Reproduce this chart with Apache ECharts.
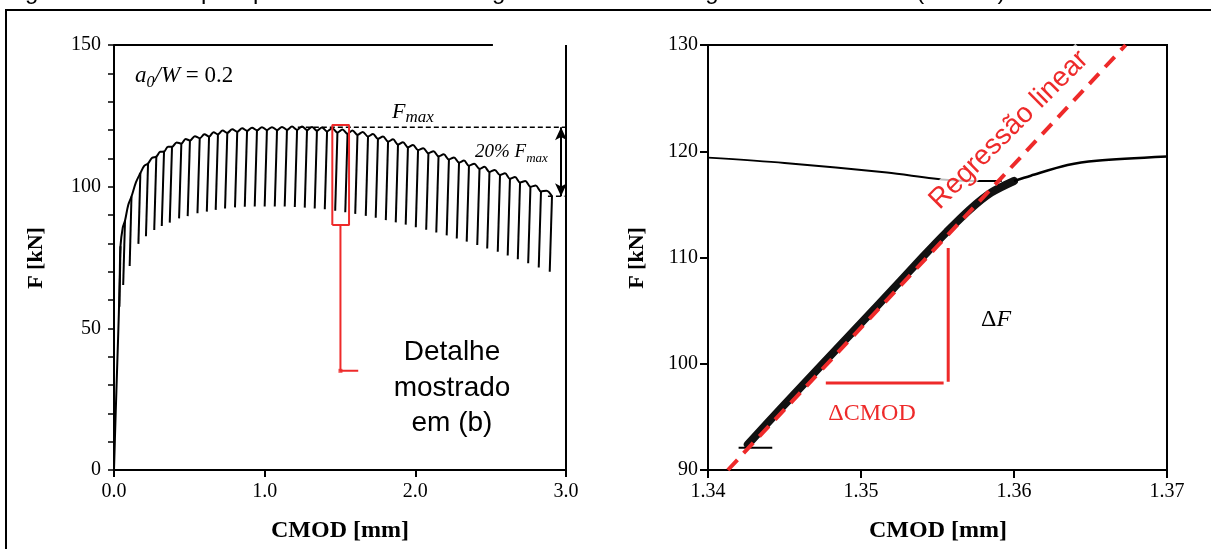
<!DOCTYPE html>
<html><head><meta charset="utf-8">
<script src="https://cdn.jsdelivr.net/npm/echarts@6/dist/echarts.min.js"></script>
<style>html,body{margin:0;padding:0;background:#fff;overflow:hidden}#c{width:1211px;height:549px}</style>
</head><body><div id="c"></div>
<script>
// ---------- (a) full loading–unloading curve ----------
const initialCMOD = [0, 0.010, 0.022, 0.032, 0.038];
const initialF    = [0, 18, 38, 55, 68];
const cycleCMOD = [0.043,0.073,0.116,0.175,0.226,0.281,0.332,0.385,0.447,0.504,0.569,0.631,0.690,0.752,0.818,0.883,0.949,1.015,1.082,1.148,1.215,1.281,1.347,1.414,1.483,1.550,1.616,1.686,1.752,1.819,1.885,1.951,2.018,2.087,2.154,2.223,2.290,2.356,2.426,2.492,2.562,2.628,2.695,2.764,2.834,2.907];
const cycleTopF = [79.0,88.0,96.5,104.8,108.2,110.6,112.4,114.1,115.2,116.3,117.1,117.7,118.5,119.0,119.4,119.7,119.9,120.0,120.0,120.1,120.1,120.0,119.8,119.5,119.1,118.7,118.3,117.7,116.9,115.9,114.9,113.9,112.9,111.8,110.7,109.6,108.5,107.4,106.3,105.2,104.1,102.8,101.5,100.0,98.3,96.6];
const archF = [85.5,93.5,101.5,107.3,110.2,112.3,114.1,115.6,116.8,117.8,118.5,119.2,119.8,120.3,120.6,120.8,121.0,121.0,121.1,121.2,121.2,121.1,120.9,120.6,120.2,119.8,119.3,118.6,117.7,116.7,115.7,114.7,113.6,112.5,111.4,110.3,109.2,108.1,107.0,105.9,104.7,103.4,102.0,100.4,98.6];
const reloadCMOD = [0.036,0.061,0.104,0.162,0.212,0.267,0.317,0.370,0.432,0.489,0.554,0.616,0.675,0.737,0.803,0.868,0.934,1.000,1.067,1.133,1.200,1.266,1.332,1.399,1.468,1.535,1.601,1.671,1.737,1.804,1.870,1.936,2.003,2.072,2.139,2.208,2.275,2.341,2.411,2.477,2.547,2.613,2.680,2.749,2.819,2.892];
const cycleMinF = [57.6,65.3,72.0,79.8,82.5,84.7,86.1,87.3,88.8,89.6,90.6,91.2,91.8,92.3,92.7,92.9,93.0,93.0,93.0,93.0,92.8,92.6,92.3,92.0,91.5,91.0,90.4,89.7,89.0,88.2,87.4,86.6,85.7,84.8,83.8,82.8,81.7,80.6,79.4,78.2,77.0,75.7,74.4,73.0,71.5,70.0];
const fMax = 121.0, f80 = 96.6;

// ---------- (b) detail ----------
const prevCMOD = [1.3400,1.3450,1.3517,1.3557,1.3592];
const prevF    = [119.4,118.9,118.0,117.3,117.2];
const loadCMOD = [1.3426,1.3449,1.3475,1.3511,1.3540,1.3556,1.3571,1.3585,1.3600];
const loadF    = [92.4,96.0,100.0,105.5,110.0,112.4,114.5,116.1,117.2];
const contCMOD = [1.3600,1.3611,1.3635,1.3654,1.3700];
const contF    = [117.2,117.7,118.7,119.1,119.5];
const baseCMOD = [1.3420,1.3442];
const baseF    = [92.1,92.1];
const regCMOD  = [1.3413,1.3673];
const regF     = [90,130];
const dCmodX = [1.3477,1.3554], dCmodF = 98.2;
const dFX = 1.3557, dFF = [98.3,110.9];

const SERIF = '"Liberation Serif","Times New Roman",serif';
const SANS = '"Liberation Sans",Arial,sans-serif';
const RED = '#ee2a2a';
const BLK = '#000';

const zip = (xs, ys) => xs.map((x, i) => [x, ys[i]]);

const envelope = zip(initialCMOD, initialF);
for (let i = 0; i < cycleCMOD.length; i++) {
  envelope.push([cycleCMOD[i], cycleTopF[i]]);
  if (i < archF.length) envelope.push([(cycleCMOD[i] + cycleCMOD[i + 1]) / 2, archF[i]]);
}
const drops = cycleCMOD.map((x, i) => ({coords: [[x, cycleTopF[i]], [reloadCMOD[i], cycleMinF[i]]]}));

const chart = echarts.init(document.getElementById('c'));

const axisCommon = {
  axisLine: {show: true, onZero: false, lineStyle: {color: BLK, width: 2}},
  axisTick: {show: true, inside: false, length: 7, lineStyle: {color: BLK, width: 2}},
  splitLine: {show: false},
  axisLabel: {color: BLK, fontFamily: SERIF, fontSize: 20}
};

function lineS(data, extra) {
  return Object.assign({type: 'line', data, symbol: 'none', animation: false, silent: true,
    lineStyle: {color: BLK, width: 2}, z: 3}, extra);
}

chart.setOption({
  animation: false,
  grid: [
    {left: 114, top: 45, width: 452, height: 425},
    {left: 708, top: 45, width: 459, height: 425, show: true, borderColor: BLK, borderWidth: 2, backgroundColor: 'transparent'}
  ],
  xAxis: [
    Object.assign({}, axisCommon, {gridIndex: 0, type: 'value', min: 0, max: 3, interval: 1,
      axisLabel: Object.assign({}, axisCommon.axisLabel, {margin: 12, formatter: v => v.toFixed(1)})}),
    Object.assign({}, axisCommon, {gridIndex: 1, type: 'value', min: 1.34, max: 1.37, interval: 0.01,
      axisTick: {show: true, length: 8, lineStyle: {color: BLK, width: 2}},
      axisLabel: Object.assign({}, axisCommon.axisLabel, {margin: 12, formatter: v => v.toFixed(2)})})
  ],
  yAxis: [
    Object.assign({}, axisCommon, {gridIndex: 0, type: 'value', min: 0, max: 150, interval: 10,
      axisTick: {show: true, length: 6, lineStyle: {color: BLK, width: 1.5}},
      axisLabel: Object.assign({}, axisCommon.axisLabel, {margin: 13, formatter: v => (v % 50 === 0 ? String(v) : '')})}),
    Object.assign({}, axisCommon, {gridIndex: 1, type: 'value', min: 90, max: 130, interval: 10,
      axisTick: {show: true, length: 8, lineStyle: {color: BLK, width: 2}},
      axisLabel: Object.assign({}, axisCommon.axisLabel, {margin: 10})})
  ],
  series: [
    lineS([[3, 0], [3, 150]], {xAxisIndex: 0, yAxisIndex: 0, clip: false, lineStyle: {color: BLK, width: 2}}),
    lineS([[0, 150], [2.515, 150]], {xAxisIndex: 0, yAxisIndex: 0, clip: false, lineStyle: {color: BLK, width: 2}}),
    {type: 'lines', coordinateSystem: 'cartesian2d', xAxisIndex: 0, yAxisIndex: 0, data: drops, silent: true,
      animation: false, lineStyle: {color: BLK, width: 2, opacity: 1}, z: 3},
    lineS(envelope, {xAxisIndex: 0, yAxisIndex: 0, smooth: 0.35, lineStyle: {color: BLK, width: 2}}),
    lineS([[1.22, fMax], [3.0, fMax]], {xAxisIndex: 0, yAxisIndex: 0, clip: false,
      lineStyle: {color: BLK, width: 1.5, type: [5, 3]},
      markLine: {silent: true, symbol: ['arrow', 'arrow'], symbolSize: [9, 13], label: {show: false},
        lineStyle: {color: BLK, width: 2, type: 'solid'},
        data: [[{coord: [2.967, fMax]}, {coord: [2.967, f80]}]]}}),
    lineS([[2.88, f80], [2.99, f80]], {xAxisIndex: 0, yAxisIndex: 0, lineStyle: {color: BLK, width: 1.5, type: [5, 3]}}),
    lineS([[1.449, 86.5], [1.449, 121.8], [1.560, 121.8], [1.560, 86.5], [1.449, 86.5]],
      {xAxisIndex: 0, yAxisIndex: 0, lineStyle: {color: RED, width: 2}, z: 4}),
    lineS([[1.503, 86.5], [1.503, 35.0], [1.621, 35.0]], {xAxisIndex: 0, yAxisIndex: 0, lineStyle: {color: RED, width: 2}, z: 4}),
    {type: 'scatter', xAxisIndex: 0, yAxisIndex: 0, data: [[1.503, 35.0]], symbol: 'rect', symbolSize: 4,
      itemStyle: {color: RED}, silent: true, animation: false, z: 5},

    lineS(zip(prevCMOD, prevF), {xAxisIndex: 1, yAxisIndex: 1, smooth: 0.3, lineStyle: {color: BLK, width: 2}}),
    lineS(zip(loadCMOD, loadF), {xAxisIndex: 1, yAxisIndex: 1, smooth: 0.3, lineStyle: {color: '#111', width: 8, cap: 'round', join: 'round'}}),
    lineS(zip(contCMOD, contF), {xAxisIndex: 1, yAxisIndex: 1, smooth: 0.3, lineStyle: {color: BLK, width: 2.5}}),
    lineS(zip(baseCMOD, baseF), {xAxisIndex: 1, yAxisIndex: 1, lineStyle: {color: BLK, width: 2}}),
    lineS(zip(regCMOD, regF), {xAxisIndex: 1, yAxisIndex: 1, lineStyle: {color: RED, width: 4, type: [14, 9]}, z: 5}),
    lineS([[dCmodX[0], dCmodF], [dCmodX[1], dCmodF]], {xAxisIndex: 1, yAxisIndex: 1, lineStyle: {color: RED, width: 3}, z: 5}),
    lineS([[dFX, dFF[0]], [dFX, dFF[1]]], {xAxisIndex: 1, yAxisIndex: 1, lineStyle: {color: RED, width: 3}, z: 5})
  ],
  graphic: [
    {type: 'rect', shape: {x: 6, y: 10, width: 1215, height: 560}, style: {fill: 'none', stroke: BLK, lineWidth: 2}, silent: true, z: 1},
    {type: 'text', x: 5, y: 4, silent: true, style: {text: 'Figura 2.9 – Exemplo típico de ciclos de carregamento e descarregamento no ensaio (CMOD)',
      font: '24px ' + SANS, fill: BLK, textAlign: 'left', textVerticalAlign: 'bottom'}},
    {type: 'text', x: 340, y: 531, silent: true, style: {text: 'CMOD [mm]', font: 'bold 24px ' + SERIF, fill: BLK, textAlign: 'center', textVerticalAlign: 'middle'}},
    {type: 'text', x: 938, y: 531, silent: true, style: {text: 'CMOD [mm]', font: 'bold 24px ' + SERIF, fill: BLK, textAlign: 'center', textVerticalAlign: 'middle'}},
    {type: 'text', x: 36, y: 258, rotation: Math.PI / 2, silent: true, style: {text: 'F [kN]', font: 'bold 22px ' + SERIF, fill: BLK, textAlign: 'center', textVerticalAlign: 'middle'}},
    {type: 'text', x: 637, y: 258, rotation: Math.PI / 2, silent: true, style: {text: 'F [kN]', font: 'bold 22px ' + SERIF, fill: BLK, textAlign: 'center', textVerticalAlign: 'middle'}},
    {type: 'text', x: 135, y: 76, silent: true, style: {
      text: '{a|a}{s|0}{a|/W}{n| = 0.2}', textAlign: 'left', textVerticalAlign: 'middle',
      rich: {
        a: {fontFamily: SERIF, fontStyle: 'italic', fontSize: 23, lineHeight: 30, color: BLK, verticalAlign: 'middle'},
        s: {fontFamily: SERIF, fontStyle: 'italic', fontSize: 16, lineHeight: 14, color: BLK, verticalAlign: 'bottom'},
        n: {fontFamily: SERIF, fontSize: 23, lineHeight: 30, color: BLK, verticalAlign: 'middle'}
      }}},
    {type: 'text', x: 392, y: 112, silent: true, style: {
      text: '{a|F}{s|max}', textAlign: 'left', textVerticalAlign: 'middle',
      rich: {
        a: {fontFamily: SERIF, fontStyle: 'italic', fontSize: 22, lineHeight: 28, color: BLK, verticalAlign: 'middle'},
        s: {fontFamily: SERIF, fontStyle: 'italic', fontSize: 17, lineHeight: 14, color: BLK, verticalAlign: 'bottom'}
      }}},
    {type: 'text', x: 475, y: 152, silent: true, style: {
      text: '{a|20% F}{s|max}', textAlign: 'left', textVerticalAlign: 'middle',
      rich: {
        a: {fontFamily: SERIF, fontStyle: 'italic', fontSize: 19, lineHeight: 26, color: BLK, verticalAlign: 'middle'},
        s: {fontFamily: SERIF, fontStyle: 'italic', fontSize: 13, lineHeight: 12, color: BLK, verticalAlign: 'bottom'}
      }}},
    {type: 'text', x: 452, y: 388, silent: true, style: {text: 'Detalhe\nmostrado\nem (b)', font: '28px ' + SANS, lineHeight: 35.5, fill: BLK, textAlign: 'center', textVerticalAlign: 'middle'}},
    {type: 'text', x: 1009, y: 130, rotation: Math.PI / 4, silent: true, z: 10, style: {text: 'Regressão linear', font: '28px ' + SANS, fill: RED,
      textAlign: 'center', textVerticalAlign: 'middle', backgroundColor: 'rgba(255,255,255,0.75)', padding: [0, 2]}},
    {type: 'text', x: 996, y: 320, silent: true, style: {
      text: '{a|Δ}{b|F}', textAlign: 'center', textVerticalAlign: 'middle',
      rich: {a: {fontFamily: SERIF, fontSize: 24, color: RED}, b: {fontFamily: SERIF, fontStyle: 'italic', fontSize: 24, color: RED}}}},
    {type: 'text', x: 872, y: 414, silent: true, style: {text: 'ΔCMOD', font: '24px ' + SERIF, fill: RED, textAlign: 'center', textVerticalAlign: 'middle'}}
  ]
});
</script></body></html>
